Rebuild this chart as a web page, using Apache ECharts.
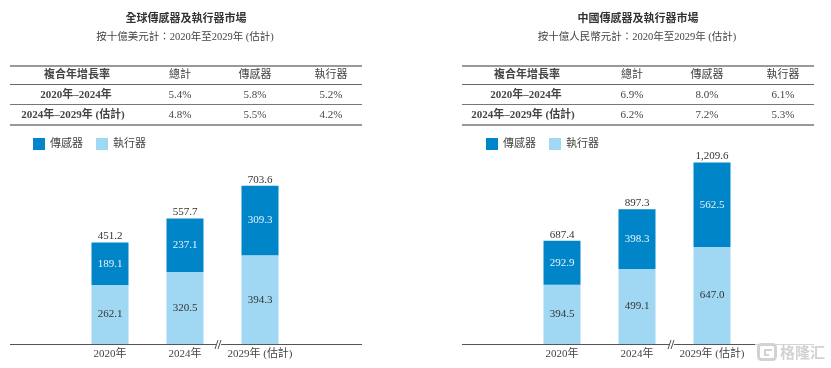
<!DOCTYPE html>
<html>
<head>
<meta charset="utf-8">
<style>
html, body { margin: 0; padding: 0; background: #fff; }
#main { width: 831px; height: 368px; }
</style>
<script src="https://cdn.jsdelivr.net/npm/echarts@6/dist/echarts.min.js"></script>
</head>
<body>
<div id="main"></div>
<script>
var categories = ["2020年", "2024年", "2029年 (估計)"];
var seriesNames = ["傳感器", "執行器"];

var globalSensor = [189.1, 237.1, 309.3];
var globalActuator = [262.1, 320.5, 394.3];
var globalTotal = [451.2, 557.7, 703.6];
var chinaSensor = [292.9, 398.3, 562.5];
var chinaActuator = [394.5, 499.1, 647.0];
var chinaTotal = [687.4, 897.3, 1209.6];

var tableHeader = ["複合年增長率", "總計", "傳感器", "執行器"];
var globalRows = [
    ["2020年–2024年", "5.4%", "5.8%", "5.2%"],
    ["2024年–2029年 (估計)", "4.8%", "5.5%", "4.2%"]
];
var chinaRows = [
    ["2020年–2024年", "6.9%", "8.0%", "6.1%"],
    ["2024年–2029年 (估計)", "6.2%", "7.2%", "5.3%"]
];

var SERIF = '"Liberation Serif","Noto Sans CJK TC"';
var graphics = [];

function addText(x, y, str, size, bold, color) {
    graphics.push({
        type: "text", x: x, y: y, silent: true,
        style: {
            text: str, fontSize: size, fontFamily: SERIF,
            fontWeight: bold ? "bold" : "normal",
            fill: color, align: "center", verticalAlign: "middle"
        }
    });
}

function addLine(x1, y1, x2, y2, width, color) {
    graphics.push({
        type: "line", silent: true,
        shape: { x1: x1, y1: y1, x2: x2, y2: y2 },
        style: { stroke: color, lineWidth: width }
    });
}

// 表と見出し、軸線を描く
function addPanel(ox, title, subtitle, rows, tcx, scx, labelX, breakX) {
    addText(tcx, 19, title, 11, true, "#333");
    addText(scx, 37, subtitle, 10.5, false, "#444");

    addLine(ox, 66, ox + 352, 66, 2, "#999");
    addLine(ox, 84.5, ox + 352, 84.5, 1, "#666");
    addLine(ox, 104.5, ox + 352, 104.5, 1, "#777");
    addLine(ox, 125, ox + 352, 125, 2, "#999");

    tableHeader.forEach(function (h, i) {
        addText(labelX[i], 75, h, 11, i === 0, "#444");
    });
    rows.forEach(function (row, r) {
        var y = 95 + r * 20;
        row.forEach(function (cell, i) {
            var x = i === 0 ? labelX[0] - (r === 1 ? 4 : 1) : labelX[i];
            addText(x, y, cell, 11, i === 0, "#444");
        });
    });

    // 軸線と省略記号
    addLine(ox, 344.5, ox + 352, 344.5, 1, "#555");
    graphics.push({
        type: "rect", silent: true,
        shape: { x: breakX - 2, y: 343, width: 4, height: 3 },
        style: { fill: "#fff" }
    });
    addLine(breakX - 4, 349, breakX - 1, 340, 1, "#555");
    addLine(breakX - 1, 349, breakX + 2, 340, 1, "#555");
}

addPanel(10, "全球傳感器及執行器市場", "按十億美元計：2020年至2029年 (估計)", globalRows,
    186, 185, [77, 180, 255, 331], 219);
addPanel(462, "中國傳感器及執行器市場", "按十億人民幣元計：2020年至2029年 (估計)", chinaRows,
    638, 637, [527, 632, 707, 783], 672);

// 右下の透かし
graphics.push({
    type: "rect", silent: true,
    shape: { x: 755, y: 342, width: 70, height: 20 },
    style: { fill: "#fff", opacity: 0.75 }
});
graphics.push({
    type: "rect", silent: true,
    shape: { x: 758.5, y: 344.5, width: 17, height: 15, r: 3 },
    style: { fill: "none", stroke: "#d2d2d2", lineWidth: 3 }
});
graphics.push({
    type: "polyline", silent: true,
    shape: { points: [[772, 350], [765, 350], [765, 355], [769, 355]] },
    style: { fill: "none", stroke: "#d2d2d2", lineWidth: 2 }
});
graphics.push({
    type: "text", x: 780, y: 352, silent: true,
    style: {
        text: "格隆汇", fontSize: 15, fontWeight: "bold", fontFamily: '"Noto Sans CJK SC"',
        fill: "#d2d2d2", align: "left", verticalAlign: "middle"
    }
});

function fmt(v) {
    var parts = v.toFixed(1).split(".");
    return parts[0].replace(/\B(?=(\d{3})+$)/g, ",") + "." + parts[1];
}

function stackSeries(idx, stack, name, data, color, labelColor) {
    return {
        name: name, type: "bar", stack: stack, barWidth: 37,
        xAxisIndex: idx, yAxisIndex: idx, data: data,
        itemStyle: { color: color },
        label: {
            show: true, position: "inside", color: labelColor,
            fontFamily: SERIF, fontSize: 11,
            formatter: function (p) { return fmt(p.value); }
        }
    };
}

// 合計ラベル用の見えない折れ線
function totalSeries(idx, data) {
    return {
        name: "總計", type: "line", xAxisIndex: idx, yAxisIndex: idx, data: data,
        symbol: "circle", symbolSize: 1, silent: true,
        lineStyle: { opacity: 0 },
        itemStyle: { color: "rgba(0,0,0,0)" },
        label: {
            show: true, position: "top", distance: 0, color: "#333",
            fontFamily: SERIF, fontSize: 11,
            formatter: function (p) { return fmt(p.value); }
        }
    };
}

function makeX(idx) {
    return {
        type: "category", gridIndex: idx, data: categories,
        axisLine: { show: false }, axisTick: { show: false },
        axisLabel: { color: "#444", fontFamily: SERIF, fontSize: 11, margin: 5, interval: 0 }
    };
}

function makeY(idx, max) {
    return { type: "value", gridIndex: idx, min: 0, max: max, show: false, splitLine: { show: false } };
}

function makeLegend(left) {
    return {
        data: seriesNames, left: left, top: 133, itemWidth: 12, itemHeight: 12, itemGap: 13,
        selectedMode: false, icon: "rect",
        textStyle: { color: "#444", fontFamily: SERIF, fontSize: 11 }
    };
}

var option = {
    animation: false,
    backgroundColor: "#fff",
    legend: [makeLegend(28), makeLegend(481)],
    grid: [
        { left: 72.5, top: 144, width: 225, height: 200 },
        { left: 524.5, top: 144, width: 225, height: 200 }
    ],
    xAxis: [makeX(0), makeX(1)],
    yAxis: [makeY(0, 889), makeY(1, 1333)],
    series: [
        stackSeries(0, "global", "執行器", globalActuator, "#a0d8f3", "#333"),
        stackSeries(0, "global", "傳感器", globalSensor, "#0085c9", "#e8f4fb"),
        totalSeries(0, globalTotal),
        stackSeries(1, "china", "執行器", chinaActuator, "#a0d8f3", "#333"),
        stackSeries(1, "china", "傳感器", chinaSensor, "#0085c9", "#e8f4fb"),
        totalSeries(1, chinaTotal)
    ],
    graphic: graphics
};

var chart = echarts.init(document.getElementById("main"));
chart.setOption(option);
</script>
</body>
</html>
